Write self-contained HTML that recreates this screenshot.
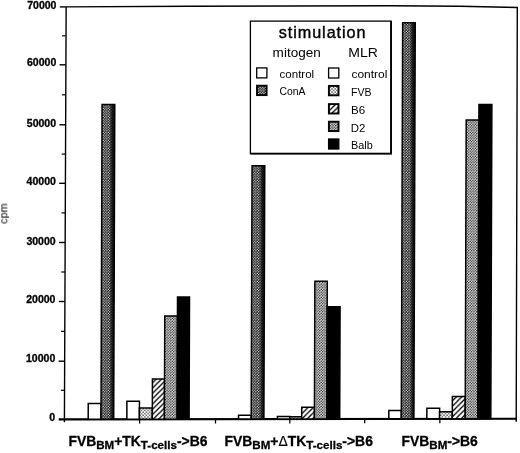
<!DOCTYPE html><html><head><meta charset="utf-8"><title>stimulation</title><style>html,body{margin:0;padding:0;background:#fff}svg{display:block}text{font-family:"Liberation Sans",Arial,Helvetica,sans-serif;fill:#000}</style></head><body>
<svg width="520" height="453" viewBox="0 0 520 453">
<defs>
<pattern id="pDark" width="2.66" height="2.66" patternUnits="userSpaceOnUse"><rect width="2.66" height="2.66" fill="#000"/><circle cx="0.66" cy="0.66" r="0.68" fill="#fff"/><circle cx="1.99" cy="1.99" r="0.68" fill="#fff"/></pattern>
<pattern id="pMed" width="2.66" height="2.66" patternUnits="userSpaceOnUse"><rect width="2.66" height="2.66" fill="#fff"/><circle cx="0.66" cy="0.66" r="0.72" fill="#000"/><circle cx="1.99" cy="1.99" r="0.72" fill="#000"/></pattern>
<pattern id="pLight" width="3.2" height="3.2" patternUnits="userSpaceOnUse"><rect width="3.2" height="3.2" fill="#fff"/><circle cx="0.8" cy="0.8" r="0.7" fill="#1a1a1a"/><circle cx="2.4" cy="2.4" r="0.7" fill="#1a1a1a"/></pattern>
<pattern id="pHatch" width="5.3" height="5.3" patternUnits="userSpaceOnUse"><rect width="5.3" height="5.3" fill="#fff"/><path d="M-1 1 L1 -1 M-1 6.3 L6.3 -1 M4.3 6.3 L6.3 4.3" stroke="#000" stroke-width="1.25"/></pattern>
<linearGradient id="gShade" x1="0" y1="0" x2="1" y2="0"><stop offset="0" stop-color="#000" stop-opacity="0"/><stop offset="0.6" stop-color="#000" stop-opacity="0.05"/><stop offset="0.8" stop-color="#000" stop-opacity="0.75"/><stop offset="1" stop-color="#000" stop-opacity="0.95"/></linearGradient>
<filter id="soft" x="0" y="0" width="520" height="453" filterUnits="userSpaceOnUse"><feGaussianBlur stdDeviation="0.32"/></filter>
</defs>
<rect width="520" height="453" fill="#fff"/>
<g filter="url(#soft)">
<path d="M64.4 422.2 L66.15 6.9 L190 6.3 L390 5.7 L460 6.3 L517.3 7.5 L516.2 421.8" fill="none" stroke="#000" stroke-width="1.4" stroke-linejoin="miter"/>
<path d="M58.7 419.4 L64.4 419.35 L516.9 418.7" fill="none" stroke="#000" stroke-width="2.1"/>
<text x="49.20" y="420.90" font-size="10.0" font-weight="bold" textLength="5.9" lengthAdjust="spacingAndGlyphs" stroke="#000" stroke-width="0.3">0</text>
<path d="M60.90 390.27 H64.50" stroke="#000" stroke-width="1.2"/>
<path d="M58.60 361.20 H64.60" stroke="#000" stroke-width="1.4"/>
<text x="26.00" y="362.40" font-size="10.0" font-weight="bold" textLength="29.3" lengthAdjust="spacingAndGlyphs" stroke="#000" stroke-width="0.3">10000</text>
<path d="M61.10 331.35 H64.70" stroke="#000" stroke-width="1.2"/>
<path d="M58.80 301.50 H64.80" stroke="#000" stroke-width="1.4"/>
<text x="26.20" y="303.00" font-size="10.0" font-weight="bold" textLength="29.3" lengthAdjust="spacingAndGlyphs" stroke="#000" stroke-width="0.3">20000</text>
<path d="M61.30 272.00 H64.90" stroke="#000" stroke-width="1.2"/>
<path d="M59.00 242.50 H65.00" stroke="#000" stroke-width="1.4"/>
<text x="26.40" y="245.10" font-size="10.0" font-weight="bold" textLength="29.3" lengthAdjust="spacingAndGlyphs" stroke="#000" stroke-width="0.3">30000</text>
<path d="M61.50 212.90 H65.10" stroke="#000" stroke-width="1.2"/>
<path d="M59.20 183.30 H65.20" stroke="#000" stroke-width="1.4"/>
<text x="26.60" y="184.95" font-size="10.0" font-weight="bold" textLength="29.3" lengthAdjust="spacingAndGlyphs" stroke="#000" stroke-width="0.3">40000</text>
<path d="M61.70 154.05 H65.30" stroke="#000" stroke-width="1.2"/>
<path d="M59.40 124.80 H65.40" stroke="#000" stroke-width="1.4"/>
<text x="26.80" y="126.70" font-size="10.0" font-weight="bold" textLength="29.3" lengthAdjust="spacingAndGlyphs" stroke="#000" stroke-width="0.3">50000</text>
<path d="M61.90 94.80 H65.50" stroke="#000" stroke-width="1.2"/>
<path d="M59.60 64.80 H65.60" stroke="#000" stroke-width="1.4"/>
<text x="27.00" y="65.90" font-size="10.0" font-weight="bold" textLength="29.3" lengthAdjust="spacingAndGlyphs" stroke="#000" stroke-width="0.3">60000</text>
<path d="M62.10 35.85 H65.70" stroke="#000" stroke-width="1.2"/>
<path d="M59.80 6.90 H65.80" stroke="#000" stroke-width="1.4"/>
<text x="27.20" y="8.80" font-size="10.0" font-weight="bold" textLength="29.3" lengthAdjust="spacingAndGlyphs" stroke="#000" stroke-width="0.3">70000</text>
<path d="M139.6 419.19 V423.59" stroke="#000" stroke-width="1.25"/>
<path d="M215.5 419.08 V423.48" stroke="#000" stroke-width="1.25"/>
<path d="M289.85 418.98 V423.38" stroke="#000" stroke-width="1.25"/>
<path d="M364.7 418.87 V423.27" stroke="#000" stroke-width="1.25"/>
<path d="M439.85 418.76 V423.16" stroke="#000" stroke-width="1.25"/>
<text transform="translate(7.3 213.6) rotate(-90)" text-anchor="middle" font-size="10.8">cpm</text>
<path d="M88.20 419.27 L88.25 403.60 L101.05 403.60 L101.00 419.25 Z" fill="#fff" stroke="#000" stroke-width="1.5" stroke-linejoin="miter"/>
<path d="M101.00 419.25 L102.07 104.60 L114.77 104.60 L113.70 419.23 Z" fill="url(#pDark)" stroke="#000" stroke-width="1.5" stroke-linejoin="miter"/>
<path d="M101.00 419.25 L102.07 104.60 L114.77 104.60 L113.70 419.23 Z" fill="url(#gShade)" stroke="none"/>
<path d="M126.85 419.21 L126.91 401.30 L139.46 401.30 L139.40 419.19 Z" fill="#fff" stroke="#000" stroke-width="1.5" stroke-linejoin="miter"/>
<path d="M139.40 419.19 L139.44 408.10 L152.34 408.10 L152.30 419.17 Z" fill="url(#pLight)" stroke="#000" stroke-width="1.5" stroke-linejoin="miter"/>
<path d="M152.30 419.17 L152.44 378.90 L164.54 378.90 L164.40 419.16 Z" fill="url(#pHatch)" stroke="#000" stroke-width="1.5" stroke-linejoin="miter"/>
<path d="M164.40 419.16 L164.75 316.10 L177.45 316.10 L177.10 419.14 Z" fill="url(#pMed)" stroke="#000" stroke-width="1.5" stroke-linejoin="miter"/>
<path d="M177.10 419.14 L177.52 296.90 L189.52 296.90 L189.10 419.12 Z" fill="#000" stroke="#000" stroke-width="1.5" stroke-linejoin="miter"/>
<path d="M238.55 419.05 L238.56 415.20 L251.21 415.20 L251.20 419.03 Z" fill="#fff" stroke="#000" stroke-width="1.5" stroke-linejoin="miter"/>
<path d="M251.20 419.03 L252.06 165.70 L264.76 165.70 L263.90 419.01 Z" fill="url(#pDark)" stroke="#000" stroke-width="1.5" stroke-linejoin="miter"/>
<path d="M251.20 419.03 L252.06 165.70 L264.76 165.70 L263.90 419.01 Z" fill="url(#gShade)" stroke="none"/>
<path d="M277.40 418.99 L277.41 416.50 L289.81 416.50 L289.80 418.98 Z" fill="#fff" stroke="#000" stroke-width="1.5" stroke-linejoin="miter"/>
<path d="M289.80 418.98 L289.81 416.80 L301.71 416.80 L301.70 418.96 Z" fill="url(#pLight)" stroke="#000" stroke-width="1.5" stroke-linejoin="miter"/>
<path d="M301.70 418.96 L301.74 407.20 L314.44 407.20 L314.40 418.94 Z" fill="url(#pHatch)" stroke="#000" stroke-width="1.5" stroke-linejoin="miter"/>
<path d="M314.40 418.94 L314.87 281.30 L327.27 281.30 L326.80 418.92 Z" fill="url(#pMed)" stroke="#000" stroke-width="1.5" stroke-linejoin="miter"/>
<path d="M326.80 418.92 L327.18 306.70 L340.08 306.70 L339.70 418.90 Z" fill="#000" stroke="#000" stroke-width="1.5" stroke-linejoin="miter"/>
<path d="M388.80 418.83 L388.83 410.40 L401.33 410.40 L401.30 418.82 Z" fill="#fff" stroke="#000" stroke-width="1.5" stroke-linejoin="miter"/>
<path d="M401.30 418.82 L402.65 22.70 L415.25 22.70 L413.90 418.80 Z" fill="url(#pDark)" stroke="#000" stroke-width="1.5" stroke-linejoin="miter"/>
<path d="M401.30 418.82 L402.65 22.70 L415.25 22.70 L413.90 418.80 Z" fill="url(#gShade)" stroke="none"/>
<path d="M426.85 418.78 L426.89 408.30 L439.64 408.30 L439.60 418.76 Z" fill="#fff" stroke="#000" stroke-width="1.5" stroke-linejoin="miter"/>
<path d="M439.60 418.76 L439.62 411.80 L452.32 411.80 L452.30 418.74 Z" fill="url(#pLight)" stroke="#000" stroke-width="1.5" stroke-linejoin="miter"/>
<path d="M452.30 418.74 L452.38 396.50 L465.28 396.50 L465.20 418.72 Z" fill="url(#pHatch)" stroke="#000" stroke-width="1.5" stroke-linejoin="miter"/>
<path d="M465.20 418.72 L466.22 120.10 L478.92 120.10 L477.90 418.71 Z" fill="url(#pMed)" stroke="#000" stroke-width="1.5" stroke-linejoin="miter"/>
<path d="M477.90 418.71 L478.97 104.60 L491.87 104.60 L490.80 418.69 Z" fill="#000" stroke="#000" stroke-width="1.5" stroke-linejoin="miter"/>
<rect x="250.4" y="21.1" width="140.6" height="132.5" fill="#fff" stroke="#000" stroke-width="1.3"/>
<path d="M391.1 21.1 V153.7 H250.4" fill="none" stroke="#000" stroke-width="1.7"/>
<text x="322.6" y="37.5" text-anchor="middle" font-size="16.2" letter-spacing="0.95" stroke="#000" stroke-width="0.4">stimulation</text>
<text x="272.6" y="56.5" font-size="12.4" textLength="48.2" lengthAdjust="spacingAndGlyphs" fill="#3a3a3a">mitogen</text>
<text x="348.3" y="56.5" font-size="12.4" textLength="29.6" lengthAdjust="spacingAndGlyphs">MLR</text>
<rect x="256.70" y="67.90" width="10.20" height="10.00" fill="#fff" stroke="#000" stroke-width="1.3"/>
<rect x="257.00" y="85.70" width="9.60" height="9.40" fill="url(#pDark)" stroke="#000" stroke-width="1.9"/>
<rect x="328.60" y="68.00" width="10.20" height="10.00" fill="#fff" stroke="#000" stroke-width="1.3"/>
<rect x="328.90" y="85.90" width="9.60" height="9.40" fill="url(#pLight)" stroke="#000" stroke-width="1.9"/>
<rect x="328.90" y="104.10" width="9.60" height="9.40" fill="url(#pHatch)" stroke="#000" stroke-width="1.9"/>
<rect x="328.90" y="121.70" width="9.60" height="9.40" fill="url(#pMed)" stroke="#000" stroke-width="1.9"/>
<rect x="328.90" y="139.30" width="9.60" height="9.40" fill="#000" stroke="#000" stroke-width="1.9"/>
<text x="279.6" y="77.8" font-size="11.7" textLength="34.6" lengthAdjust="spacingAndGlyphs" fill="#444">control</text>
<text x="279.4" y="95.4" font-size="10.9" textLength="26.0" lengthAdjust="spacingAndGlyphs" fill="#444">ConA</text>
<text x="351.4" y="78.0" font-size="11.7" textLength="36.0" lengthAdjust="spacingAndGlyphs" fill="#000">control</text>
<text x="351.0" y="95.6" font-size="10.8" textLength="20.6" lengthAdjust="spacingAndGlyphs" fill="#000">FVB</text>
<text x="351.0" y="113.6" font-size="11.0" textLength="14.2" lengthAdjust="spacingAndGlyphs" fill="#000">B6</text>
<text x="350.8" y="131.5" font-size="11.0" textLength="14.6" lengthAdjust="spacingAndGlyphs" fill="#000">D2</text>
<text x="351.0" y="148.5" font-size="11.0" textLength="21.8" lengthAdjust="spacingAndGlyphs" fill="#000">Balb</text>
<text x="68.4" y="446.4" font-size="13.9" font-weight="bold" stroke="#000" stroke-width="0.3"><tspan>FVB</tspan><tspan font-size="11.6" dy="2.7">BM</tspan><tspan dy="-2.7">+TK</tspan><tspan font-size="11.6" dy="2.7">T-cells</tspan><tspan dy="-2.7">-&gt;B6</tspan></text>
<text x="224.5" y="446.4" font-size="13.9" font-weight="bold" stroke="#000" stroke-width="0.3"><tspan>FVB</tspan><tspan font-size="11.6" dy="2.7">BM</tspan><tspan dy="-2.7">+<tspan font-weight="normal" stroke-width="0.15">Δ</tspan>TK</tspan><tspan font-size="11.6" dy="2.7">T-cells</tspan><tspan dy="-2.7">-&gt;B6</tspan></text>
<text x="401.5" y="446.4" font-size="13.9" font-weight="bold" stroke="#000" stroke-width="0.3"><tspan>FVB</tspan><tspan font-size="11.6" dy="2.7">BM</tspan><tspan dy="-2.7">-&gt;B6</tspan></text>
</g></svg></body></html>
